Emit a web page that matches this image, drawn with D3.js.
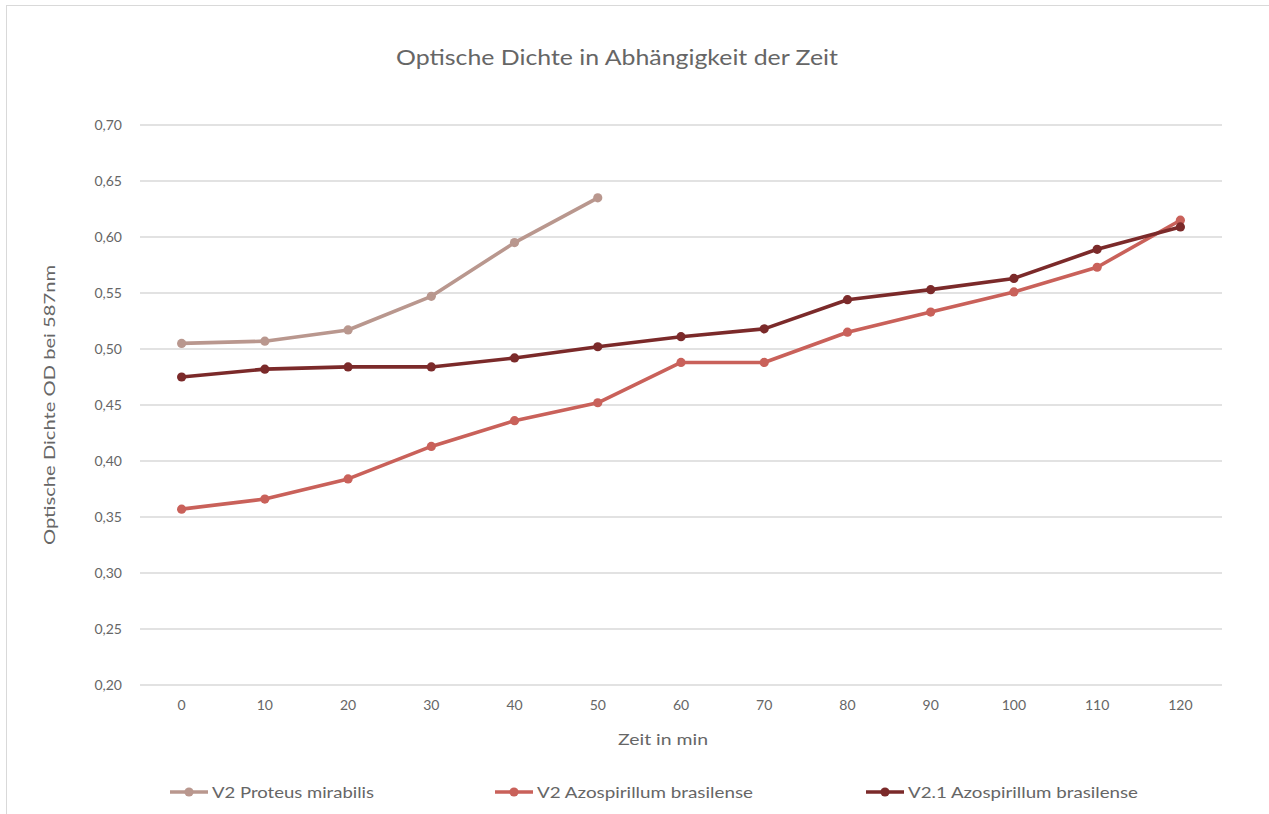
<!DOCTYPE html>
<html><head><meta charset="utf-8">
<script src="https://cdn.jsdelivr.net/npm/d3@7"></script>
<style>body{margin:0;background:#fff;} svg{display:block;font-family:Lato,"Open Sans",sans-serif;}</style>
</head><body><svg id="c" width="1269" height="814"></svg>
<script>
const categories = [0,10,20,30,40,50,60,70,80,90,100,110,120];
const seriesNames = ["V2 Proteus mirabilis","V2 Azospirillum brasilense","V2.1 Azospirillum brasilense"];
const proteus = [0.505,0.507,0.517,0.547,0.595,0.635];
const azo = [0.357,0.366,0.384,0.413,0.436,0.452,0.488,0.488,0.515,0.533,0.551,0.573,0.615];
const azo21 = [0.475,0.482,0.484,0.484,0.492,0.502,0.511,0.518,0.544,0.553,0.563,0.589,0.609];
const yTicks = [0.20,0.25,0.30,0.35,0.40,0.45,0.50,0.55,0.60,0.65,0.70];
const colors = ["#b9978e","#c9615a","#7b2a2a"];
const title = "Optische Dichte in Abhängigkeit der Zeit";
const xTitle = "Zeit in min";
const yTitle = "Optische Dichte OD bei 587nm";

const svg = d3.select("#c");
svg.append("rect").attr("x",6.5).attr("y",5.5).attr("width",1300).attr("height",900)
  .attr("fill","#fff").attr("stroke","#d9d9d9");

const x = d3.scaleBand().domain(categories).range([140,1222]);
const y = d3.scaleLinear().domain([0.20,0.70]).range([685,125]);
const txt = "#666666";

// gridlines
svg.append("g").selectAll("line").data(yTicks).join("line")
  .attr("x1",140).attr("x2",1222).attr("y1",d=>y(d)).attr("y2",d=>y(d))
  .attr("stroke","#d9d9d9").attr("stroke-width",1.3);

// y axis
const yAxis = svg.append("g").attr("transform","translate(140,0)")
  .call(d3.axisLeft(y).tickValues(yTicks).tickSize(0).tickPadding(18)
    .tickFormat(d=>d3.format(".2f")(d).replace(".",",")));
yAxis.select(".domain").remove();
yAxis.selectAll("text").attr("fill",txt).style("font-size","14px").style("font-family","Lato");

// x axis
const xAxis = svg.append("g").attr("transform","translate(0,685)")
  .call(d3.axisBottom(x).tickSize(0).tickPadding(15));
xAxis.select(".domain").remove();
xAxis.selectAll("text").attr("fill",txt).style("font-size","14px").style("font-family","Lato");

// titles
svg.append("text").attr("x",617).attr("y",65).attr("text-anchor","middle")
  .attr("fill",txt).style("font-size","22px").text(title)
  .attr("textLength",442).attr("lengthAdjust","spacingAndGlyphs");
svg.append("text").attr("x",663).attr("y",745).attr("text-anchor","middle")
  .attr("fill",txt).style("font-size","14.5px").text(xTitle)
  .attr("textLength",90).attr("lengthAdjust","spacingAndGlyphs");
svg.append("text").attr("transform","translate(55,405) rotate(-90)").attr("text-anchor","middle")
  .attr("fill",txt).style("font-size","14.5px").text(yTitle)
  .attr("textLength",280).attr("lengthAdjust","spacingAndGlyphs");

const data = [proteus, azo, azo21];
const line = d3.line().x((d,i)=>x(categories[i])+x.bandwidth()/2).y(d=>y(d));
data.forEach((s,k)=>{
  const g = svg.append("g");
  g.append("path").datum(s).attr("d",line).attr("fill","none")
    .attr("stroke",colors[k]).attr("stroke-width",3.6).attr("stroke-linejoin","round").attr("stroke-linecap","round");
  g.selectAll("circle").data(s).join("circle")
    .attr("cx",(d,i)=>x(categories[i])+x.bandwidth()/2).attr("cy",d=>y(d)).attr("r",4.6)
    .attr("fill",colors[k]);
});

// legend
const legX = [170,495,866];
const legW = [162,216,230];
const leg = svg.append("g");
seriesNames.forEach((n,k)=>{
  const g = leg.append("g").attr("transform",`translate(${legX[k]},792)`);
  g.append("line").attr("x1",0).attr("x2",38).attr("stroke",colors[k]).attr("stroke-width",3.6);
  g.append("circle").attr("cx",19).attr("r",4.6).attr("fill",colors[k]);
  g.append("text").attr("x",42).attr("y",5.5).attr("fill",txt).style("font-size","15px").text(n)
    .attr("textLength",legW[k]).attr("lengthAdjust","spacingAndGlyphs");
});
</script></body></html>
